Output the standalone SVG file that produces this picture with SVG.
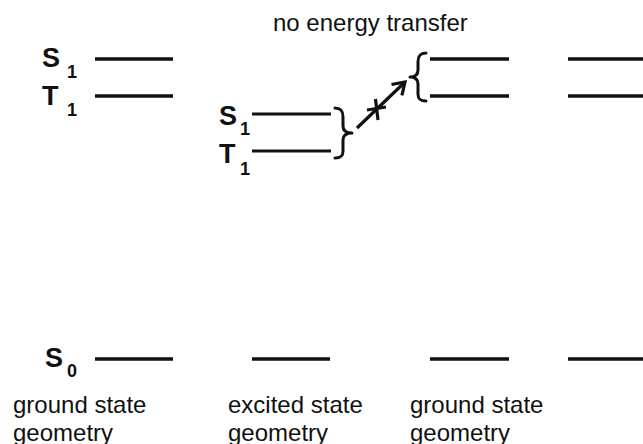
<svg xmlns="http://www.w3.org/2000/svg" width="643" height="444" viewBox="0 0 643 444">
<defs>
<style>
.lv{stroke:#111;stroke-width:3.5;fill:none}
.lvt{stroke:#111;stroke-width:2.8;fill:none}
.br{stroke:#111;stroke-width:3;fill:none;stroke-linecap:round;stroke-linejoin:round}
.lab{font-family:"Liberation Sans",Arial,sans-serif;font-weight:bold;fill:#111}
.txt{font-family:"Liberation Sans",Arial,sans-serif;font-size:24px;fill:#111}
</style>
<marker id="head" markerUnits="userSpaceOnUse" viewBox="0 0 16 16" refX="14" refY="8" markerWidth="16" markerHeight="16" orient="auto" overflow="visible">
<path d="M2.5,0.5 L14,8 L2.5,15.5" fill="none" stroke="#111" stroke-width="3.2" stroke-linejoin="miter"/>
</marker>
</defs>
<rect width="643" height="444" fill="#fff"/>

<g id="ground-left">
<line class="lv" x1="95" y1="59" x2="173" y2="59"/>
<line class="lv" x1="95" y1="96" x2="173" y2="96"/>
<line class="lv" x1="95" y1="359" x2="173" y2="359"/>
<text class="lab" x="42" y="67" font-size="27">S</text>
<text class="lab" x="67" y="78" font-size="18">1</text>
<text class="lab" x="42" y="105" font-size="27">T</text>
<text class="lab" x="67" y="116" font-size="18">1</text>
<text class="lab" x="45" y="367" font-size="27">S</text>
<text class="lab" x="67" y="377" font-size="18">0</text>
<text class="txt" x="13" y="413">ground state</text>
<text class="txt" x="13" y="441">geometry</text>
</g>

<g id="excited">
<line class="lvt" x1="252" y1="114" x2="331" y2="114"/>
<line class="lvt" x1="252" y1="151" x2="331" y2="151"/>
<line class="lv" x1="252" y1="359" x2="330" y2="359"/>
<text class="lab" x="219" y="125" font-size="27">S</text>
<text class="lab" x="240" y="135" font-size="18">1</text>
<text class="lab" x="219" y="163" font-size="27">T</text>
<text class="lab" x="240" y="175" font-size="18">1</text>
<path class="br" d="M335,108 C341,108 343,111 343,117 L343,126 C343,131 346,133 352,133 C346,133 343,135 343,140 L343,151 C343,156 341,158 335,158"/>
<text class="txt" x="228" y="413">excited state</text>
<text class="txt" x="228" y="441">geometry</text>
</g>

<g id="ground-right">
<line class="lv" x1="430" y1="59" x2="509" y2="59"/>
<line class="lv" x1="430" y1="96" x2="509" y2="96"/>
<line class="lv" x1="430" y1="359" x2="509" y2="359"/>
<path class="br" d="M426,53 C420,53 418,56 418,62 L418,70 C418,75 415,77 410,77 C415,77 418,79 418,84 L418,94 C418,99 420,101 426,101"/>
<text class="txt" x="410" y="413">ground state</text>
<text class="txt" x="410" y="441">geometry</text>
</g>

<g id="ground-far">
<line class="lv" x1="568" y1="59" x2="643" y2="59"/>
<line class="lv" x1="568" y1="96" x2="643" y2="96"/>
<line class="lv" x1="568" y1="359" x2="643" y2="359"/>
</g>

<g id="connectors">
<line x1="357" y1="128" x2="405" y2="82" stroke="#111" stroke-width="3.2" marker-end="url(#head)"/>
<path d="M367,110 L386,107 M375.5,99 L378,120" stroke="#111" stroke-width="3.2" fill="none"/>
<text class="txt" x="273" y="31">no energy transfer</text>
</g>
</svg>
